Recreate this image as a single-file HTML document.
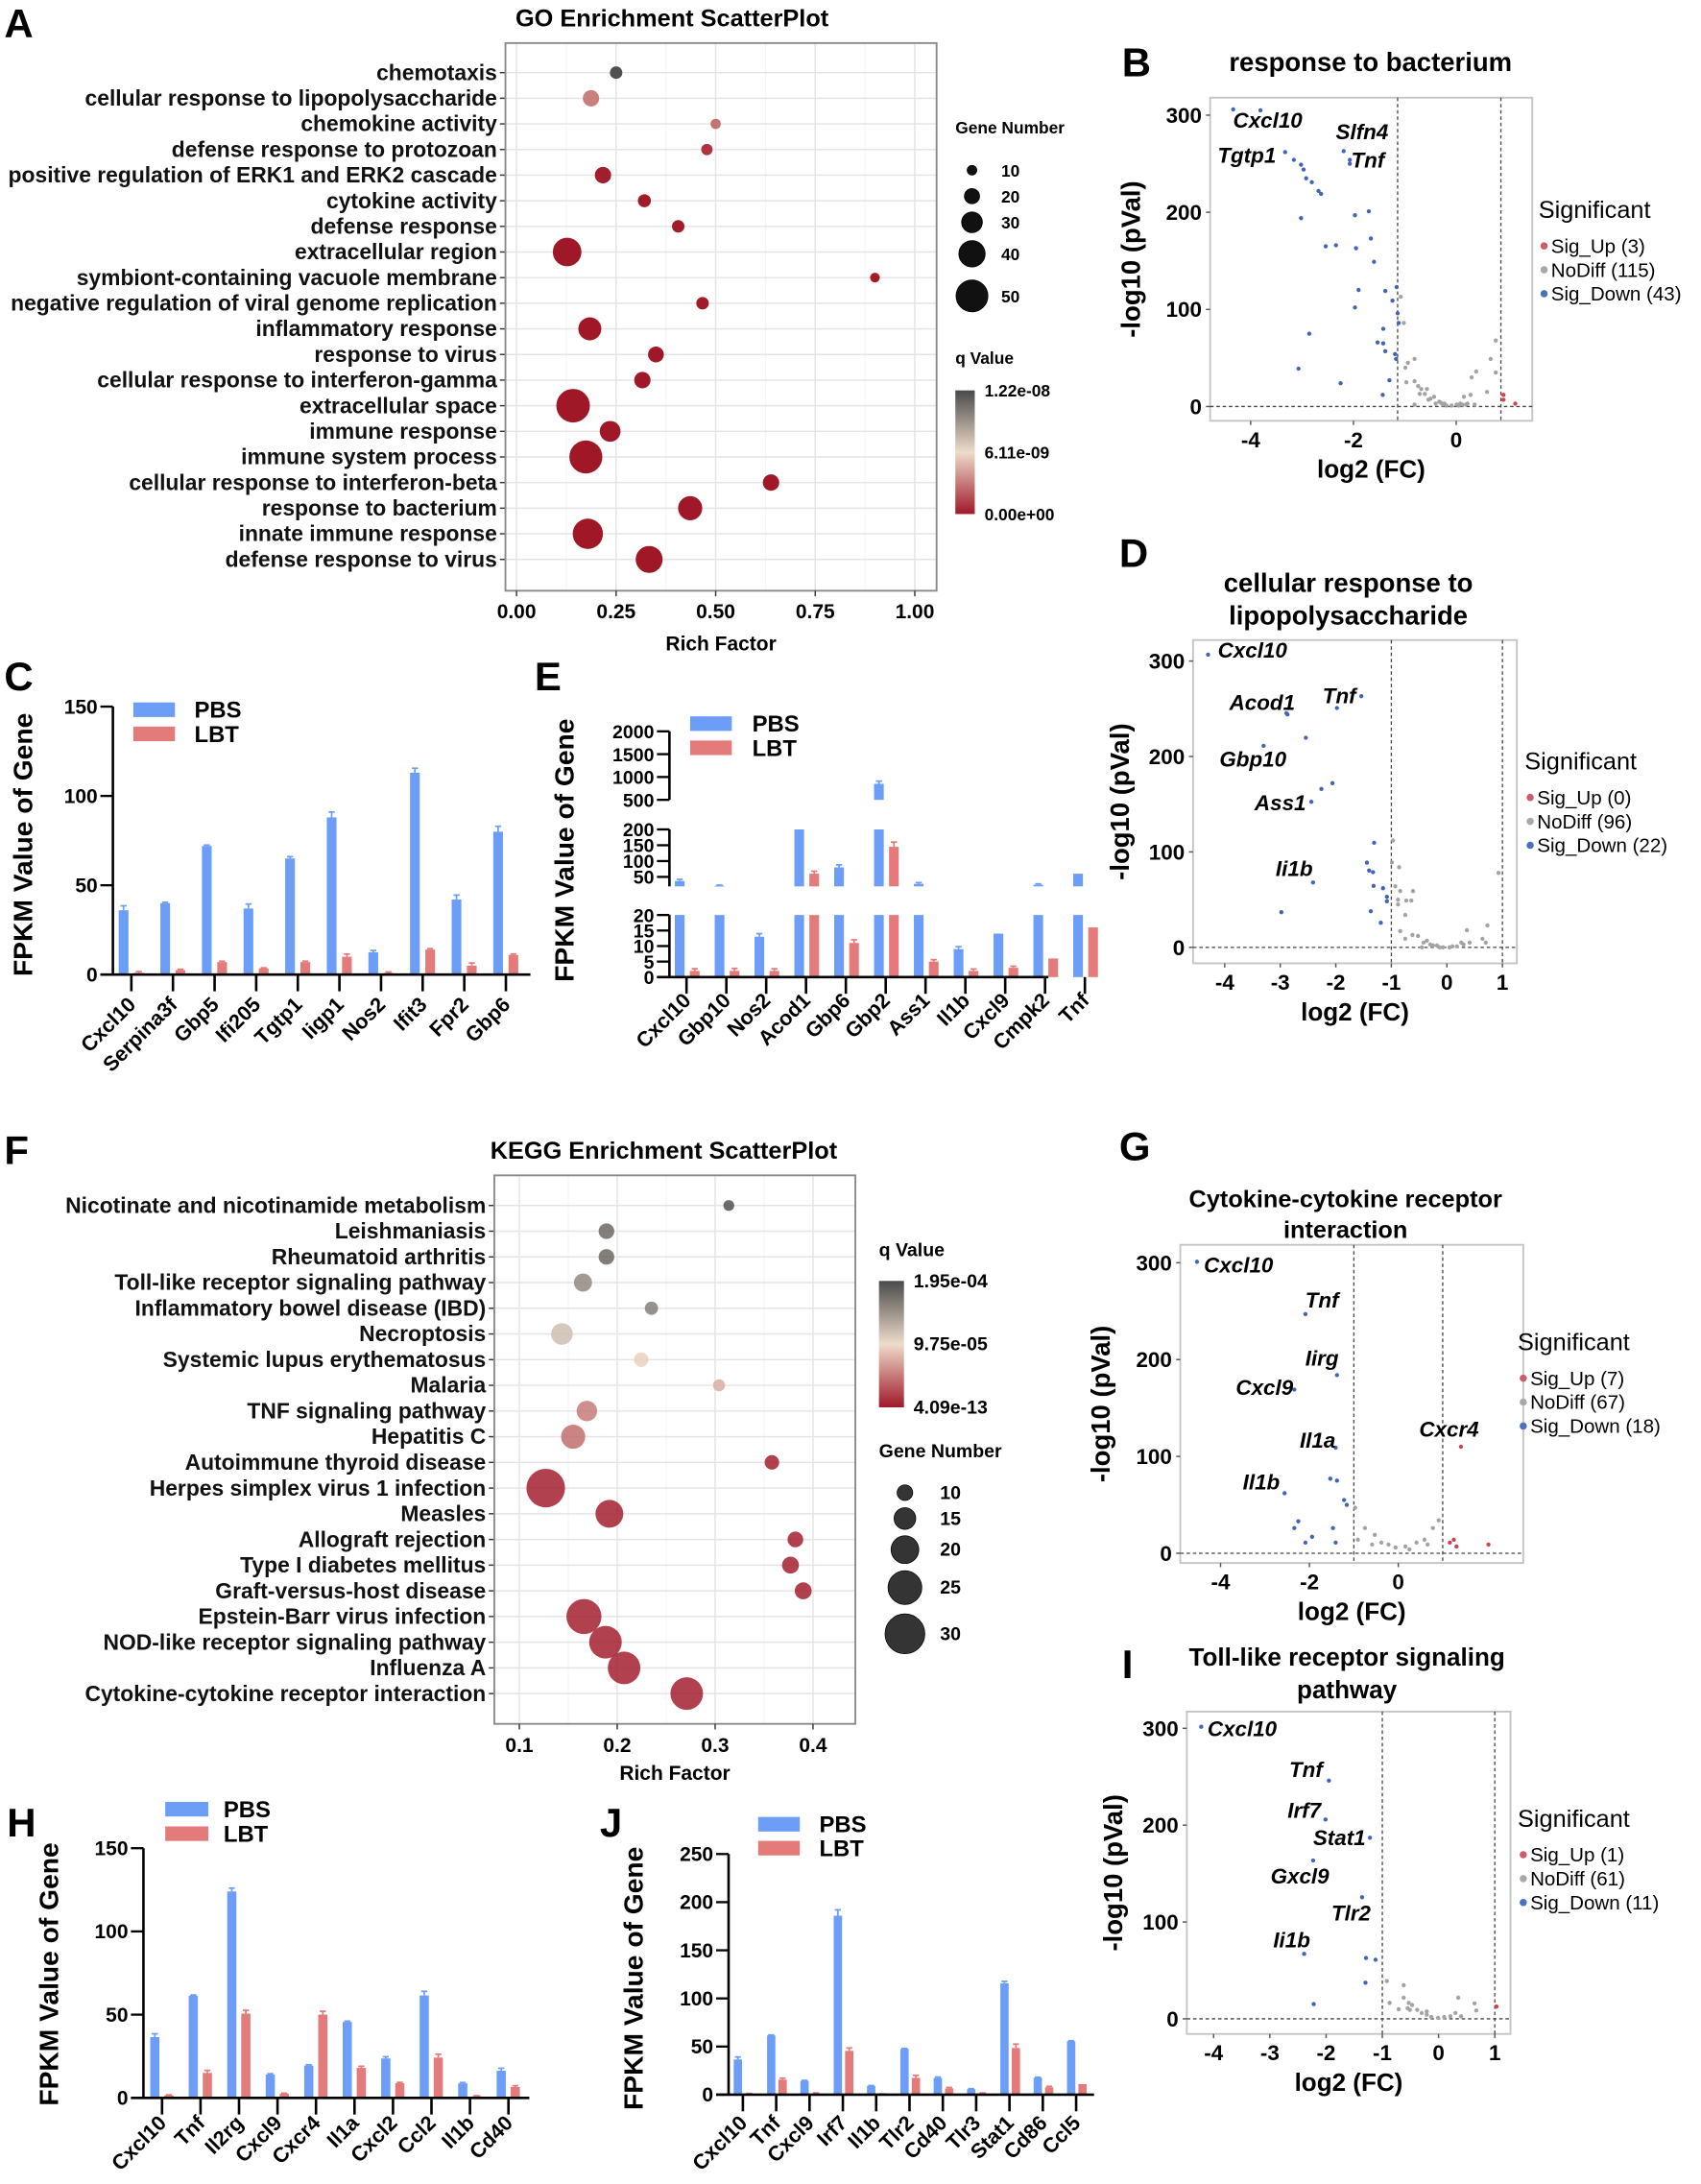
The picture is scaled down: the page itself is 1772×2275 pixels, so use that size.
<!DOCTYPE html>
<html>
<head>
<meta charset="utf-8">
<style>
html,body{margin:0;padding:0;background:#fff}
svg{display:block}
text{font-family:"Liberation Sans",Arial,sans-serif}
</style>
</head>
<body>
<svg id="fig" xmlns="http://www.w3.org/2000/svg" width="1772" height="2275" viewBox="0 0 1225 1572" preserveAspectRatio="none">
<defs>
<linearGradient id="qgrad" x1="0" y1="0" x2="0" y2="1">
<stop offset="0" stop-color="#4a4a4a"/><stop offset="0.5" stop-color="#eedcca"/><stop offset="1" stop-color="#a01828"/>
</linearGradient>
</defs>
</svg>
<script>
// ---------------- DATA ----------------
const goTerms=["chemotaxis","cellular response to lipopolysaccharide","chemokine activity","defense response to protozoan","positive regulation of ERK1 and ERK2 cascade","cytokine activity","defense response","extracellular region","symbiont-containing vacuole membrane","negative regulation of viral genome replication","inflammatory response","response to virus","cellular response to interferon-gamma","extracellular space","immune response","immune system process","cellular response to interferon-beta","response to bacterium","innate immune response","defense response to virus"];
const goRich=[0.25,0.187,0.50,0.478,0.217,0.321,0.406,0.127,0.90,0.467,0.184,0.35,0.316,0.142,0.235,0.174,0.639,0.436,0.179,0.333];
const goGenes=[15,22,11,13,22,16,15,44,10,15,34,21,22,53,30,52,22,36,47,41];
const goQ=[1.2e-8,3.2e-9,2.8e-9,9e-10,2e-10,1e-10,1e-10,0,1e-10,1e-10,0,0,0,0,0,0,0,0,0,0];
const goXTicks=[0,0.25,0.5,0.75,1];
const goXTickLabels=["0.00","0.25","0.50","0.75","1.00"];
const goSizeLegend=[10,20,30,40,50];
const goQLabels=["1.22e-08","6.11e-09","0.00e+00"];

const keggTerms=["Nicotinate and nicotinamide metabolism","Leishmaniasis","Rheumatoid arthritis","Toll-like receptor signaling pathway","Inflammatory bowel disease (IBD)","Necroptosis","Systemic lupus erythematosus","Malaria","TNF signaling pathway","Hepatitis C","Autoimmune thyroid disease","Herpes simplex virus 1 infection","Measles","Allograft rejection","Type I diabetes mellitus","Graft-versus-host disease","Epstein-Barr virus infection","NOD-like receptor signaling pathway","Influenza A","Cytokine-cytokine receptor interaction"];
const keggRich=[0.314,0.189,0.189,0.165,0.235,0.1435,0.2245,0.304,0.169,0.155,0.358,0.127,0.192,0.382,0.377,0.39,0.166,0.188,0.207,0.271];
const keggGenes=[6,10,10,12,8,15,9,7,14,17,9,29,20,10,11,11,26,24,24,24];
const keggQ=[1.9e-4,1.75e-4,1.75e-4,1.52e-4,1.6e-4,1.17e-4,9.2e-5,7.4e-5,4.9e-5,4.3e-5,4e-6,4e-6,4e-6,4e-6,4e-6,4e-6,4e-6,4e-6,4e-6,4e-6];
const keggXTicks=[0.1,0.2,0.3,0.4];
const keggXTickLabels=["0.1","0.2","0.3","0.4"];
const keggSizeLegend=[10,15,20,25,30];
const keggQLabels=["1.95e-04","9.75e-05","4.09e-13"];

const cCats=["Cxcl10","Serpina3f","Gbp5","Ifi205","Tgtp1","Iigp1","Nos2","Ifit3","Fpr2","Gbp6"];
const cPBS=[36,40,72,37,65,88,12.5,113,42,80];
const cLBT=[1,2.5,7,3.5,7,10,1,14,5,11];
const cPBSErr=[2.5,0.5,0.5,2.5,1,3,1,2.5,2.5,3];
const cLBTErr=[0.7,0.5,0.5,0.3,0.5,1.5,0.5,0.5,1.5,0.5];
const cTicks=[0,50,100,150];

const eCats=["Cxcl10","Gbp10","Nos2","Acod1","Gbp6","Gbp2","Ass1","Il1b","Cxcl9","Cmpk2","Tnf"];
const ePBS=[37,22,13,200,80,850,28,9,14,25,60];
const eLBT=[2,2,2,60,11,145,5,2,3,6,16];
const ePBSErr=[5,2,1,0,8,60,4,0.8,0,3,0];
const eLBTErr=[0.7,0.8,0.7,8,1,15,0.6,0.6,0.5,0,0];
const eTicksLow=[0,5,10,15,20];
const eTicksMid=[50,100,150,200];
const eTicksHigh=[500,1000,1500,2000];

const hCats=["Cxcl10","Tnf","Il2rg","Cxcl9","Cxcr4","Il1a","Cxcl2","Ccl2","Il1b","Cd40"];
const hPBS=[36.5,61.3,124,14,19.4,45.6,23.7,61.5,8.7,16.3];
const hLBT=[1.5,15,50.6,2.5,50,18,8.8,24.2,1,6.5];
const hPBSErr=[2,0.5,2,0.5,0.5,0.5,1,2.5,0.5,1.5];
const hLBTErr=[0.3,1.5,2,0.3,2,1,0.5,2,0.3,0.8];
const hTicks=[0,50,100,150];

const jCats=["Cxcl10","Tnf","Cxcl9","Irf7","Il1b","Tlr2","Cd40","Tlr3","Stat1","Cd86","Ccl5"];
const jPBS=[36.6,61.5,14.3,186,9,47.5,17.3,5.7,115.7,17.6,55.5];
const jLBT=[1,15.6,1.5,45.5,0.5,17.5,6.5,1.5,48.5,7.6,11];
const jPBSErr=[2.5,0.5,0.5,6,0.5,0.5,1,0.5,2,0.5,0.5];
const jLBTErr=[0.3,1.5,0.3,3,0.3,2.5,1,0.3,4,1,0];
const jTicks=[0,50,100,150,200,250];

// volcano B
const bX=[-4.34,-3.81,-3.33,-3.16,-3.02,-2.97,-2.92,-2.81,-2.68,-2.63,-3.02,-2.54,-2.34,-1.97,-1.95,-1.70,-1.66,-1.60,-2.19,-2.07,-2.07,-1.90,-1.97,-1.38,-1.16,-1.24,-1.14,-1.12,-1.42,-1.53,-1.42,-1.38,-1.19,-1.17,-1.30,-1.43,-2.25,-3.07,-2.86,
 -1.08,-1.02,-0.99,-0.94,-0.81,-0.97,-0.81,-0.74,-0.68,-0.71,-0.61,-0.57,-0.50,-0.43,-0.40,-0.33,-0.26,-0.19,-0.09,0.01,0.08,0.15,0.22,0.28,0.30,0.39,0.36,0.60,0.67,0.77,0.77,-0.81,-0.54,-0.23,0.19,-0.30,0.05,0.12,
 0.92,0.92,1.15];
const bY=[306,305,262,254,249,244,235,231,222,219,194,165,166,197,163,201,173,149,263,254,250,120,102,119,123,109,96,86,80,66,65,57,54,49,27,12,24,39,75,
 113,86,40,45,49,25,26,21,18,13,13,18,8,10,3,5,2,1,1,2,3,10,3,12,30,36,2,15,49,68,35,2,7,3,2,4,1,2,
 12,7,3];
const bC="DDDDDDDDDDDDDDDDDDDDDDDDDDDDDDDDDDDDDDDNNNNNNNNNNNNNNNNNNNNNNNNNNNNNNNNNNNNNNUUU".split("");
const bCounts=[3,115,43];
// volcano D
const dX=[-4.30,-2.89,-2.87,-1.98,-1.54,-2.54,-3.30,-2.06,-2.26,-2.44,-1.31,-1.44,-1.40,-1.33,-1.32,-1.15,-1.08,-1.08,-1.37,-1.19,-2.41,-2.98,
 -0.97,-0.99,-0.86,-0.93,-0.84,-0.61,-0.88,-0.88,-0.73,-0.64,-0.75,-0.84,-0.62,-0.75,-0.52,-0.42,-0.36,-0.30,-0.18,-0.07,0.05,0.18,0.26,0.36,0.41,0.64,0.73,0.93,0.70,-0.45,-0.13,0.10,-0.25,0.30];
const dY=[306.7,245.4,244,250.8,263.2,219.6,211.2,172,166,152.5,109.6,88.8,80.5,78.8,64.4,62,53,48.3,37.9,25.8,68,36.9,
 112,89,84,64,59,59,50,45,49,49,34,17,13,9,12,5,7,3,2,0,0,1,5,18,5,9,23,78,5,0,0,1,2,3];
const dC="DDDDDDDDDDDDDDDDDDDDDDNNNNNNNNNNNNNNNNNNNNNNNNNNNNNNNNNN".split("");
const dCounts=[0,96,22];
// volcano G
const gX=[-4.53,-2.09,-1.38,-2.34,-1.41,-2.56,-1.53,-1.38,-2.25,-2.34,-1.22,-1.16,-1.47,-1.94,-1.41,-2.09,
 -0.97,-0.75,-0.53,-0.38,-0.22,-0.06,0.16,0.41,0.59,0.78,0.91,-0.59,0.25,-0.91,0.66,
 1.41,1.16,1.25,2.03,1.31];
const gY=[301,247,184,169,109,62,77,75,33,26,55,50,26,17,11,11,
 47,26,19,11,9,6,7,11,14,26,34,9,4,14,9,
 110,11,14,9,7];
const gC="DDDDDDDDDDDDDDDDNNNNNNNNNNNNNNNUUUUU".split("");
const gCounts=[7,67,18];
// volcano I
const iX=[-4.22,-1.95,-2.01,-1.22,-2.23,-1.36,-2.39,-1.29,-1.12,-1.30,-2.22,
 -0.92,-0.62,-0.87,-0.62,-0.71,-0.53,-0.47,-0.55,-0.38,-0.30,-0.21,-0.13,-0.01,0.10,0.21,0.30,0.35,0.40,0.64,0.67,-0.21,-0.51,
 1.03];
const iY=[301.6,246,205.8,187,163.5,125.5,67,62.8,61,37.3,15.2,
 39,34.7,16.5,21.8,9.9,16.5,14.2,10.9,9.2,6,4.3,2,1,1.7,2.6,6,21.8,2.6,15.9,8.6,7.6,9.2,
 12.6];
const iC="DDDDDDDDDDDNNNNNNNNNNNNNNNNNNNNNNU".split("");
const iCounts=[1,61,11];

// ---------------- HELPERS ----------------
const NS="http://www.w3.org/2000/svg";
const svg=document.getElementById("fig");
function mk(tag,attrs,parent){const e=document.createElementNS(NS,tag);for(const k in attrs)e.setAttribute(k,attrs[k]);(parent||svg).appendChild(e);return e;}
function tx(str,attrs,parent){const e=mk("text",attrs,parent);e.textContent=str;return e;}
function qColor(t){const s=[[160,24,40],[238,220,202],[74,74,74]];t=Math.max(0,Math.min(1,t));let a,b,u;if(t<0.5){a=s[0];b=s[1];u=t/0.5;}else{a=s[1];b=s[2];u=(t-0.5)/0.5;}return "rgb("+a.map((v,i)=>Math.round(v+(b[i]-v)*u)).join(",")+")";}

// ---------------- PANEL LETTERS ----------------
const letters=[["A",3,27],["B",808,55],["C",3,497],["E",385,497],["D",806,408],["F",3,838],["G",806,835],["H",5,1322],["J",432,1322],["I",808,1208]];
for(const L of letters){
  const t=tx(L[0],{x:L[1],y:L[2],"font-size":29,"font-weight":"bold",fill:"#000"});
  
  
}

// ---------------- ENRICHMENT SCATTER ----------------
function drawEnrich(c){
  const g=mk("g",{});
  
  
  const [L,T,R,B]=c.frame;
  const xp=v=>c.x0+(v-c.v0)*c.xs;
  const yp=i=>c.row0+i*c.rowStep;
  const t=tx(c.title,{x:c.titleX,y:c.titleY,"text-anchor":"middle","font-size":17.5,"font-weight":"bold"},g);
  
  
  mk("rect",{x:L,y:T,width:R-L,height:B-T,fill:"#fff"},g);
  for(const m of c.minor){const l=mk("line",{x1:xp(m),x2:xp(m),y1:T,y2:B,stroke:"#f3f3f3","stroke-width":0.7},g);
    
    }
  for(const m of c.ticks){const l=mk("line",{x1:xp(m),x2:xp(m),y1:T,y2:B,stroke:"#e4e4e4","stroke-width":1},g);
    
    }
  c.terms.forEach((term,i)=>{
    const y=yp(i);
    const gl=mk("line",{x1:L,x2:R,y1:y,y2:y,stroke:"#e4e4e4","stroke-width":1},g);
    
    
    const tk=mk("line",{x1:L-4,x2:L,y1:y,y2:y,stroke:"#333","stroke-width":1},g);
    
    
    const lb=tx(term,{x:L-6,y:y+5.3,"text-anchor":"end","font-size":c.labelSize,"font-weight":"bold",fill:"#111"},g);
    
    
  });
  mk("rect",{x:L,y:T,width:R-L,height:B-T,fill:"none",stroke:"#8a8a8a","stroke-width":1.3},g);
  c.ticks.forEach((v,k)=>{
    const tk=mk("line",{x1:xp(v),x2:xp(v),y1:B,y2:B+4,stroke:"#333","stroke-width":1},g);
    
    
    const lb=tx(c.tickLabels[k],{x:xp(v),y:c.tickY,"text-anchor":"middle","font-size":14.5,"font-weight":"bold"},g);
    
    
  });
  const xt=tx("Rich Factor",{x:(L+R)/2,y:c.axisTitleY,"text-anchor":"middle","font-size":14.5,"font-weight":"bold"},g);
  
  
  c.rich.forEach((v,i)=>{
    const ci=mk("circle",{cx:xp(v),cy:yp(i),r:c.rOf(c.genes[i]),fill:qColor(c.q[i]/c.qMax),"fill-opacity":c.op},g);
    
    
  });
  return g;
}
function drawEnrichLegend(c){
  const g=mk("g",{});
  
  
  const gt=tx("Gene Number",{x:c.gx,y:c.gTitleY,"font-size":c.fs,"font-weight":"bold"},g);
  
  
  c.sizes.forEach((n,k)=>{
    const ci=mk("circle",{cx:c.cx,cy:c.cys[k],r:c.rOf(n),fill:"#111","fill-opacity":c.op,stroke:"#000","stroke-width":0.5},g);
    
    
    const lb=tx(String(n),{x:c.lx,y:c.cys[k]+4.5,"font-size":c.fs,"font-weight":"bold"},g);
    
    
  });
  const qt=tx("q Value",{x:c.qx,y:c.qTitleY,"font-size":c.fs,"font-weight":"bold"},g);
  
  
  const bar=mk("rect",{x:c.qx,y:c.barT,width:c.barW,height:c.barB-c.barT,fill:"url(#qgrad)"},g);
  
  
  c.qLabels.forEach((s,k)=>{
    const y=c.barT+(c.barB-c.barT)*k/2;
    const lb=tx(s,{x:c.qx+c.barW+7,y:y+4.5,"font-size":c.fs,"font-weight":"bold"},g);
    
    
  });
}

drawEnrich({name:"go-enrichment-scatter",title:"GO Enrichment ScatterPlot",titleX:484,titleY:19,frame:[364,31,674.5,425.2],
  x0:372,v0:0,xs:286.8,row0:52.3,rowStep:18.44,ticks:goXTicks,tickLabels:goXTickLabels,minor:[0.125,0.375,0.625,0.875],
  tickY:445,axisTitleY:468,terms:goTerms,rich:goRich,genes:goGenes,q:goQ,qMax:1.22e-8,rOf:n=>1.5+0.2*n,op:1,labelSize:15.8});
drawEnrichLegend({name:"go-legend",gx:688,gTitleY:96,sizes:goSizeLegend,cx:700,cys:[122.5,141.2,160,182.7,213],rOf:n=>1.5+0.2*n,op:1,lx:721,
  qx:688,qTitleY:262,barT:281,barB:370,barW:14,qLabels:goQLabels,fs:12});

drawEnrich({name:"kegg-enrichment-scatter",title:"KEGG Enrichment ScatterPlot",titleX:478,titleY:834,frame:[356,846,616,1240.8],
  x0:374,v0:0.1,xs:705,row0:867.7,rowStep:18.49,ticks:keggXTicks,tickLabels:keggXTickLabels,minor:[0.15,0.25,0.35],
  tickY:1261,axisTitleY:1281,terms:keggTerms,rich:keggRich,genes:keggGenes,q:keggQ,qMax:1.95e-4,rOf:n=>1.3+0.435*n,op:0.85,labelSize:15.8});
drawEnrichLegend({name:"kegg-legend",gx:633,gTitleY:1049,sizes:keggSizeLegend,cx:651.7,cys:[1074.4,1093,1115.4,1142.7,1176],rOf:n=>1.3+0.435*n,op:0.85,lx:677,
  qx:633,qTitleY:904,barT:922,barB:1013,barW:18,qLabels:keggQLabels,fs:13.5});

// ---------------- BAR CHARTS ----------------
function drawBars(p){
  const g=mk("g",{});
  
  
  const yOf=(s,v)=>s.y0+(v-s.lo)/(s.hi-s.lo)*(s.y1-s.y0);
  const base=p.segs[0].y0;
  const series=[[p.pbs,p.pbsErr,"#6c9ef8",p.off1,"pbs"],[p.lbt,p.lbtErr,"#e47b7b",p.off2,"lbt"]];
  p.cats.forEach((cat,i)=>{
    const cx=p.t0+i*p.dt;
    for(const sr of series){
      const v=sr[0][i],err=sr[1][i],bx=cx+sr[3]-p.bw/2;
      for(const s of p.segs){
        if(v<=s.lo && s.lo>0) continue;
        const top=Math.min(v,s.hi);
        const y1=yOf(s,s.lo),y2=yOf(s,top);
        const r=mk("rect",{x:bx,y:y2,width:p.bw,height:Math.max(0.6,y1-y2),fill:sr[2]},g);
        
        
        if(v<=s.hi && err>0){
          const ye=yOf(s,Math.min(v+err,s.hi));
          const e1=mk("line",{x1:bx+p.bw/2,x2:bx+p.bw/2,y1:y2,y2:ye,stroke:sr[2],"stroke-width":1.2},g);
          
          
          const e2=mk("line",{x1:bx+p.bw/2-2.2,x2:bx+p.bw/2+2.2,y1:ye,y2:ye,stroke:sr[2],"stroke-width":1.2},g);
          
          
        }
      }
    }
    const tk=mk("line",{x1:cx,x2:cx,y1:base,y2:base+12,stroke:"#000","stroke-width":1.8},g);
    
    
    const lb=tx(cat,{x:cx+4,y:p.labelY,"text-anchor":"end","font-size":15,"font-weight":"bold",transform:"rotate(-45 "+(cx+4)+" "+p.labelY+")"},g);
    
    
  });
  for(const s of p.segs){
    const ax=mk("line",{x1:p.ax,x2:p.ax,y1:s.y0,y2:s.y1,stroke:"#000","stroke-width":1.8},g);
    
    
    s.ticks.forEach(v=>{
      const y=yOf(s,v);
      const tk=mk("line",{x1:p.ax-9,x2:p.ax,y1:y,y2:y,stroke:"#000","stroke-width":1.6},g);
      
      
      const lb=tx(String(v),{x:p.ax-11,y:y+5,"text-anchor":"end","font-size":p.tfs,"font-weight":"bold"},g);
      
      
    });
  }
  const xa=mk("line",{x1:p.ax-9,x2:p.xEnd,y1:base,y2:base,stroke:"#000","stroke-width":1.8},g);
  
  
  const yt=tx("FPKM Value of Gene",{x:p.titleX,y:p.titleY,"text-anchor":"middle","font-size":19.5,"font-weight":"bold",transform:"rotate(-90 "+p.titleX+" "+p.titleY+")"},g);
  
  
  const Lg=p.legend;
  const items=[["PBS","#6c9ef8",Lg.y1],["LBT","#e47b7b",Lg.y2]];
  for(const it of items){
    const r=mk("rect",{x:Lg.x,y:it[2],width:Lg.w,height:Lg.h,fill:it[1]},g);
    
    
    const t=tx(it[0],{x:Lg.tx,y:it[2]+Lg.h+0.5,"font-size":16.5,"font-weight":"bold"},g);
    
    
  }
}

drawBars({name:"panel-c-bar-chart",cats:cCats,pbs:cPBS,lbt:cLBT,pbsErr:cPBSErr,lbtErr:cLBTErr,ax:81.3,
  segs:[{lo:0,hi:150,y0:701.5,y1:508.6,ticks:cTicks}],t0:94.6,dt:29.97,off1:-5.6,off2:5.4,bw:7,xEnd:382,labelY:724,tfs:14.5,
  titleX:23,titleY:608,legend:{x:96,w:30,h:10.5,y1:505.6,y2:523,tx:140}});
drawBars({name:"panel-e-bar-chart",cats:eCats,pbs:ePBS,lbt:eLBT,pbsErr:ePBSErr,lbtErr:eLBTErr,ax:482.1,
  segs:[{lo:0,hi:20,y0:703.3,y1:658.6,ticks:eTicksLow},{lo:20,hi:200,y0:638,y1:597,ticks:eTicksMid},{lo:500,hi:2000,y0:575.7,y1:526.4,ticks:eTicksHigh}],
  t0:494.4,dt:28.69,off1:-4.9,off2:5.9,bw:7,xEnd:755,labelY:721,tfs:13.5,
  titleX:413,titleY:612,legend:{x:497,w:30,h:10.5,y1:515.6,y2:533,tx:541.7}});
drawBars({name:"panel-h-bar-chart",cats:hCats,pbs:hPBS,lbt:hLBT,pbsErr:hPBSErr,lbtErr:hLBTErr,ax:103.3,
  segs:[{lo:0,hi:150,y0:1510,y1:1330.3,ticks:hTicks}],t0:116.7,dt:27.72,off1:-5.2,off2:4.9,bw:6.6,xEnd:381.2,labelY:1529,tfs:14.5,
  titleX:42,titleY:1421,legend:{x:119,w:31,h:10.5,y1:1297,y2:1314.6,tx:161}});
drawBars({name:"panel-j-bar-chart",cats:jCats,pbs:jPBS,lbt:jLBT,pbsErr:jPBSErr,lbtErr:jLBTErr,ax:524.7,
  segs:[{lo:0,hi:250,y0:1507.7,y1:1334.5,ticks:jTicks}],t0:535,dt:24,off1:-3.6,off2:4.6,bw:6,xEnd:787.9,labelY:1529,tfs:14.5,
  titleX:463,titleY:1424,legend:{x:546,w:30,h:10.5,y1:1307.8,y2:1325,tx:590}});

// ---------------- VOLCANO ----------------
function drawVolcano(v){
  const g=mk("g",{});
  
  
  const [L,T,R,B]=v.frame;
  const xp=x=>v.x0+x*v.xu;
  const yp=y=>v.y0-y*v.yu/100;
  v.title.forEach((s,k)=>{
    const t=tx(s,{x:v.titleX,y:v.titleY+k*v.titleGap,"text-anchor":"middle","font-size":v.titleSize,"font-weight":"bold"},g);
    
    
  });
  const fr=mk("rect",{x:L,y:T,width:R-L,height:B-T,fill:"#fff",stroke:"#c4c4c4","stroke-width":1.3},g);
  
  
  const hz=mk("line",{x1:L,x2:R,y1:yp(0),y2:yp(0),stroke:"#444","stroke-width":0.9,"stroke-dasharray":"2.5,2"},g);
  
  
  v.thr.forEach(t=>{
    const l=mk("line",{x1:xp(t),x2:xp(t),y1:T,y2:B,stroke:"#444","stroke-width":0.9,"stroke-dasharray":"2.5,2"},g);
    
    
  });
  const col={D:"#3f64b8",N:"#a3a3a3",U:"#d0404e"};
  v.xs.forEach((x,i)=>{
    const c=mk("circle",{cx:xp(x),cy:yp(v.ys[i]),r:1.5,fill:col[v.cs[i]]},g);
    
    
  });
  v.labels.forEach(l=>{
    const t=tx(l[0],{x:l[1],y:l[2],"font-size":15.5,"font-weight":"bold","font-style":"italic"},g);
    
    
  });
  v.yTicks.forEach(y=>{
    const tk=mk("line",{x1:L-3,x2:L,y1:yp(y),y2:yp(y),stroke:"#555","stroke-width":1},g);
    
    
    const lb=tx(String(y),{x:L-6,y:yp(y)+5.5,"text-anchor":"end","font-size":15.5,"font-weight":"bold"},g);
    
    
  });
  v.xTicks.forEach(x=>{
    const tk=mk("line",{x1:xp(x),x2:xp(x),y1:B,y2:B+3,stroke:"#555","stroke-width":1},g);
    
    
    const lb=tx(String(x),{x:xp(x),y:B+19,"text-anchor":"middle","font-size":15.5,"font-weight":"bold"},g);
    
    
  });
  const xt=tx("log2 (FC)",{x:(L+R)/2,y:B+41,"text-anchor":"middle","font-size":18,"font-weight":"bold"},g);
  
  
  const ycx=v.yTitleX,ycy=(T+B)/2;
  const yt=tx("-log10 (pVal)",{x:ycx,y:ycy,"text-anchor":"middle","font-size":19,"font-weight":"bold",transform:"rotate(-90 "+ycx+" "+ycy+")"},g);
  
  
  const lt=tx("Significant",{x:v.legX,y:v.legY+6,"font-size":17.5},g);
  
  
  const names=["Sig_Up","NoDiff","Sig_Down"],cols=["#d05a68","#a8a8a8","#4a70c0"];
  names.forEach((n,k)=>{
    const y=v.legY+26+k*17.2;
    const d=mk("circle",{cx:v.legX+4,cy:y,r:2.6,fill:cols[k]},g);
    
    
    const t=tx(n+" ("+v.counts[k]+")",{x:v.legX+9,y:y+5,"font-size":14.2},g);
    
    
  });
}

drawVolcano({name:"volcano-response-to-bacterium",frame:[871.5,70.3,1103.5,302.9],x0:1048.7,xu:37,y0:292.6,yu:69.9,
  thr:[-1.14,0.87],xs:bX,ys:bY,cs:bC,counts:bCounts,xTicks:[-4,-2,0],yTicks:[0,100,200,300],
  title:["response to bacterium"],titleX:987,titleY:51,titleSize:19,titleGap:23.5,yTitleX:821,legX:1108,legY:151,
  labels:[["Cxcl10",888,92],["Tgtp1",876.8,117],["Slfn4",962,100.2],["Tnf",973,120.5]]});
drawVolcano({name:"volcano-cellular-response-to-lps",frame:[859.2,460.7,1092.4,693.4],x0:1042,xu:40,y0:681.9,yu:68.7,
  thr:[-1,1],xs:dX,ys:dY,cs:dC,counts:dCounts,xTicks:[-4,-3,-2,-1,0,1],yTicks:[0,100,200,300],
  title:["cellular response to","lipopolysaccharide"],titleX:971,titleY:426,titleSize:19,titleGap:23.5,yTitleX:813,legX:1098,legY:548,
  labels:[["Cxcl10",877,473.4],["Acod1",885.3,511],["Tnf",952.5,506.3],["Gbp10",878.2,551.7],["Ass1",903.5,583.3],["Ii1b",918.7,630.7]]});
drawVolcano({name:"volcano-cytokine-receptor-interaction",frame:[850,896,1097,1125],x0:1007,xu:32,y0:1118,yu:69.7,
  thr:[-1,1],xs:gX,ys:gY,cs:gC,counts:gCounts,xTicks:[-4,-2,0],yTicks:[0,100,200,300],
  title:["Cytokine-cytokine receptor","interaction"],titleX:969,titleY:869,titleSize:17.5,titleGap:22,yTitleX:799,legX:1093,legY:966,
  labels:[["Cxcl10",867,916],["Tnf",940,941],["Iirg",940,983],["Cxcl9",890,1004],["Il1a",936,1042],["Cxcr4",1022,1034],["Il1b",895,1072]]});
drawVolcano({name:"volcano-toll-like-receptor",frame:[854.7,1232,1087.8,1464],x0:1036,xu:40.5,y0:1453.1,yu:69.7,
  thr:[-1,1],xs:iX,ys:iY,cs:iC,counts:iCounts,xTicks:[-4,-3,-2,-1,0,1],yTicks:[0,100,200,300],
  title:["Toll-like receptor signaling","pathway"],titleX:970,titleY:1199,titleSize:18,titleGap:23.5,yTitleX:808,legX:1093,legY:1309,
  labels:[["Cxcl10",869.6,1249.7],["Tnf",928.4,1279],["Irf7",927.2,1308.5],["Stat1",945.6,1328],["Gxcl9",915,1355.7],["Tlr2",958.8,1382.2],["Ii1b",916.9,1401.7]]});
</script>
</body>
</html>
